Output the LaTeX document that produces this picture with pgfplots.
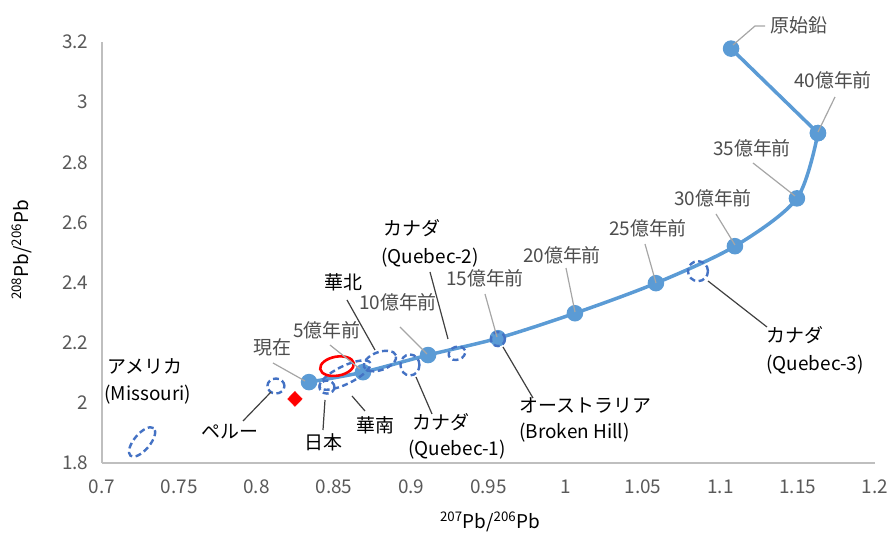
\documentclass[border=0pt]{standalone}
\usepackage{pgfplots}
\pgfplotsset{compat=1.18}
\usepackage{fontspec}
\setmainfont{Noto Sans CJK JP}
\definecolor{cblue}{HTML}{5B9BD5}
\definecolor{dblue}{HTML}{4472C4}
\definecolor{axgray}{HTML}{BFBFBF}
\definecolor{tkgray}{HTML}{595959}
\definecolor{agegray}{HTML}{4D4D4D}
\definecolor{ldark}{HTML}{404040}
\definecolor{llight}{HTML}{A6A6A6}
\newcommand{\fs}{\fontsize{19}{23}\selectfont}
\tikzset{dsh/.style={draw=dblue, line width=2.4bp, dash pattern=on 6bp off 3.5bp}}
\begin{document}
\begin{tikzpicture}
\path[use as bounding box] (0,0) rectangle (889bp,549bp);
\begin{axis}[
  at={(102bp,86bp)}, anchor=south west,
  scale only axis, width=773bp, height=421bp,
  xmin=0.7, xmax=1.2, ymin=1.8, ymax=3.2,
  axis x line*=bottom, axis y line*=left,
  axis line style={draw=axgray, line width=1.2bp},
  xtick={0.7,0.75,0.8,0.85,0.9,0.95,1,1.05,1.1,1.15,1.2},
  xticklabels={0.7,0.75,0.8,0.85,0.9,0.95,1,1.05,1.1,1.15,1.2},
  ytick={1.8,2,2.2,2.4,2.6,2.8,3,3.2},
  yticklabels={1.8,2,2.2,2.4,2.6,2.8,3,3.2},
  major tick length=0pt, tick style={draw=none},
  ticklabel style={font=\fs, text=tkgray},
  xticklabel style={yshift=-13bp},
  yticklabel style={xshift=-10bp},
  clip=false,
]
% evolution curve (present -> 4.0 Ga, smooth) and 4.0 Ga -> primeval lead (straight)
\addplot[color=cblue, line width=3.5bp, mark=*, mark size=6.5bp, mark options={fill=cblue, draw=cblue}] coordinates {
 (1.1631,2.897) (1.1069,3.178)};
\addplot[smooth, tension=0.5, color=cblue, line width=3.5bp, mark=*, mark size=6.5bp, mark options={fill=cblue, draw=cblue}] coordinates {
 (0.8339,2.069) (0.8688,2.102) (0.9109,2.159) (0.9561,2.215) (1.0059,2.298)
 (1.0583,2.398) (1.1094,2.521) (1.1495,2.680) (1.1631,2.897)};
% dashed ellipses (sample fields)
\pgfplotsset{ell/.style={only marks, mark=o, mark size=1bp}}
\addplot[ell, mark options={dsh, rotate=50, xscale=18, yscale=8}] coordinates {(0.7259,1.870)};   % Missouri
\addplot[ell, mark options={dsh, xscale=8.5, yscale=7.5}] coordinates {(0.8125,2.056)};          % Peru
\addplot[ell, mark options={dsh, xscale=7.5, yscale=6.5}] coordinates {(0.8455,2.0525)};         % Japan
\addplot[ell, mark options={dsh, rotate=26, xscale=28, yscale=9}] coordinates {(0.8572,2.0924)}; % South China
\addplot[ell, mark options={dsh, rotate=20, xscale=17, yscale=9}] coordinates {(0.8798,2.139)};  % North China
\addplot[ell, mark options={dsh, xscale=9.5, yscale=10.5}] coordinates {(0.8992,2.126)};        % Quebec-1
\addplot[ell, mark options={dsh, rotate=20, xscale=8.5, yscale=6.5}] coordinates {(0.9296,2.165)}; % Quebec-2
\addplot[ell, mark options={dsh, xscale=7, yscale=7}] coordinates {(0.9561,2.212)};              % Broken Hill
\addplot[ell, mark options={dsh, xscale=10, yscale=10}] coordinates {(1.0855,2.438)};            % Quebec-3
% red diamond and red ellipse
\addplot[only marks, mark=diamond*, mark size=7.5bp, mark options={fill=red, draw=red, xscale=1.3}] coordinates {(0.8248,2.013)};
\addplot[ell, mark options={draw=red, line width=2.6bp, solid, rotate=10, xscale=17, yscale=9.5}] coordinates {(0.852,2.122)};
\end{axis}
\begin{scope}[x=1bp, y=-1bp, shift={(0bp,549bp)}]
% axis titles
\node[font=\fs, text=black] at (490,522) {\textsuperscript{207}Pb/\textsuperscript{206}Pb};
\node[font=\fs, text=black, rotate=90] at (22,250) {\textsuperscript{208}Pb/\textsuperscript{206}Pb};
% age labels
\draw[llight, line width=1.2bp] (733,45)--(755,26)--(765,26);
\node[font=\fs, text=agegray, anchor=west] at (767,25) {原始鉛};
\draw[llight, line width=1.2bp] (835,97)--(818,132);
\node[font=\fs, text=agegray] at (833,80) {40億年前};
\draw[llight, line width=1.2bp] (753,163)--(795,196);
\node[font=\fs, text=agegray] at (752,148) {35億年前};
\draw[llight, line width=1.2bp] (716,214)--(735,245);
\node[font=\fs, text=agegray] at (713,198) {30億年前};
\draw[llight, line width=1.2bp] (645,244)--(656,283);
\node[font=\fs, text=agegray] at (648,228) {25億年前};
\draw[llight, line width=1.2bp] (566,268)--(575,312);
\node[font=\fs, text=agegray] at (562,255) {20億年前};
\draw[llight, line width=1.2bp] (485,294)--(497,337);
\node[font=\fs, text=agegray] at (485,278) {15億年前};
\draw[llight, line width=1.2bp] (400,327)--(427,354);
\node[font=\fs, text=agegray] at (398,302) {10億年前};
\draw[llight, line width=1.2bp] (330,345)--(360,369);
\node[font=\fs, text=agegray] at (327,330) {5億年前};
\draw[llight, line width=1.2bp] (273,363)--(305,381);
\node[font=\fs, text=agegray] at (272,347) {現在};
% location labels
\draw[ldark, line width=1.2bp] (347,300)--(375,350);
\node[font=\fs, text=black] at (343,282) {華北};
\draw[ldark, line width=1.2bp] (430,272)--(448,339);
\node[font=\fs, text=black, anchor=west] at (380,228) {カナダ};
\node[font=\fs, text=black, anchor=west] at (378,258) {(Quebec-2)};
\node[font=\fs, text=black, anchor=west] at (104,366) {アメリカ};
\node[font=\fs, text=black, anchor=west] at (101,395) {(Missouri)};
\draw[ldark, line width=1.2bp] (243,421)--(271,392);
\node[font=\fs, text=black] at (230,432) {ペルー};
\draw[ldark, line width=1.2bp] (323,430)--(325,400);
\node[font=\fs, text=black] at (323,442) {日本};
\draw[ldark, line width=1.2bp] (365,411)--(352,396);
\node[font=\fs, text=black] at (375,425) {華南};
\draw[ldark, line width=1.2bp] (432,414)--(416,377);
\node[font=\fs, text=black, anchor=west] at (409,422) {カナダ};
\node[font=\fs, text=black, anchor=west] at (405,450) {(Quebec-1)};
\draw[ldark, line width=1.2bp] (533,398)--(503,347);
\node[font=\fs, text=black, anchor=west] at (516,405) {オーストラリア};
\node[font=\fs, text=black, anchor=west] at (516,433) {(Broken Hill)};
\draw[ldark, line width=1.2bp] (767,327)--(708,281);
\node[font=\fs, text=black, anchor=west] at (763,335) {カナダ};
\node[font=\fs, text=black, anchor=west] at (763,365) {(Quebec-3)};
\end{scope}
\end{tikzpicture}
\end{document}
